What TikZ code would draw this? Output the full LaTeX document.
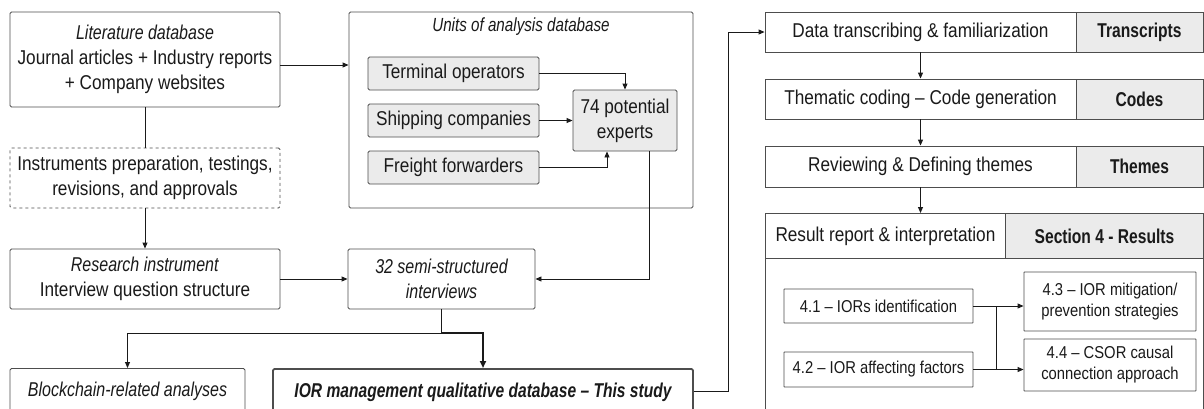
\documentclass[tikz,border=0pt]{standalone}
\usepackage{fontspec}
\setmainfont{Liberation Sans}[FakeStretch=0.86, ItalicFeatures={FakeStretch=0.8}, BoldFeatures={FakeStretch=0.78}, BoldItalicFeatures={FakeStretch=0.78}]
\usetikzlibrary{arrows.meta,calc}
\definecolor{bordc}{HTML}{4D4D4D}
\definecolor{txtc}{HTML}{1A1A1A}
\definecolor{greyf}{HTML}{EBEBEB}
\tikzset{
  box/.style={draw=bordc, rounded corners=1.5pt, line width=0.9pt, fill=white, align=center, inner sep=0pt, text=txtc, font=\fontsize{20}{25}\selectfont},
  gbox/.style={box, fill=greyf},
  smallbox/.style={box, rounded corners=0.5pt, font=\fontsize{17.2}{21}\selectfont},
  tagbox/.style={box, fill=greyf, rounded corners=0pt, font=\bfseries\fontsize{20}{24}\selectfont},
  arr/.style={draw=txtc, line width=0.9pt, -{Triangle[length=6pt,width=5pt]}},
  ln/.style={draw=txtc, line width=0.9pt},
  thk/.style={draw=txtc, line width=1.8pt}
}
\begin{document}
\begin{tikzpicture}[x=1pt,y=-1pt]
\useasboundingbox (0,0) rectangle (1204,408);
\clip (0,0) rectangle (1204,408);
\fill[white] (0,0) rectangle (1204,408);
% left column
\node[box, minimum width=270pt, minimum height=95pt] (lit) at (145,59.5) {\textit{Literature database}\\Journal articles + Industry reports\\+ Company websites};
\node[box, dashed, minimum width=270pt, minimum height=60pt] (instr) at (145,178) {Instruments preparation, testings,\\revisions, and approvals};
\node[box, minimum width=270pt, minimum height=60pt] (res) at (145,279) {\textit{Research instrument}\\Interview question structure};
% units database
\node[box, minimum width=344pt, minimum height=196pt] (units) at (521,110) {};
\node[text=txtc, font=\itshape\fontsize{19}{22}\selectfont] (unitst) at (521,27) {Units of analysis database};
\node[gbox, minimum width=171pt, minimum height=33pt] (term) at (453.5,73.5) {Terminal operators};
\node[gbox, minimum width=171pt, minimum height=33pt] (ship) at (453.5,120.5) {Shipping companies};
\node[gbox, minimum width=171pt, minimum height=33pt] (frei) at (453.5,167.5) {Freight forwarders};
\node[gbox, minimum width=104pt, minimum height=61pt] (exp) at (625,120.5) {74 potential\\experts};
% interviews
\node[box, minimum width=187pt, minimum height=60pt, font=\itshape\fontsize{20}{25}\selectfont] (intv) at (441.5,279) {32 semi-structured\\interviews};
% bottom
\node[box, minimum width=235pt, minimum height=46pt, anchor=north, font=\itshape\fontsize{20}{25}\selectfont] (block) at (127.5,368) {Blockchain-related analyses};
\node[box, line width=1.8pt, minimum width=420pt, minimum height=46pt, anchor=north, font=\bfseries\itshape\fontsize{20}{25}\selectfont] (ior) at (483,368) {IOR management qualitative database -- This study};
% right column
\node[box, rounded corners=0pt, minimum width=311pt, minimum height=40pt] (data) at (920.5,32) {Data transcribing \& familiarization};
\node[tagbox, minimum width=127pt, minimum height=40pt] (tdata) at (1139.5,32) {Transcripts};
\node[box, rounded corners=0pt, minimum width=311pt, minimum height=40pt] (codes) at (920.5,99) {Thematic coding -- Code generation};
\node[tagbox, minimum width=127pt, minimum height=40pt] (tcodes) at (1139.5,99) {Codes};
\node[box, rounded corners=0pt, minimum width=311pt, minimum height=41pt] (themes) at (920.5,166.5) {Reviewing \& Defining themes};
\node[tagbox, minimum width=127pt, minimum height=41pt] (tthemes) at (1139.5,166.5) {Themes};
\node[box, rounded corners=0pt, minimum width=438pt, minimum height=210pt, anchor=north west] (cont) at (765,213) {};
\node[box, rounded corners=0pt, minimum width=240pt, minimum height=45pt, anchor=north west] (resr) at (765,213) {Result report \& interpretation};
\node[tagbox, minimum width=198pt, minimum height=45pt, anchor=north west] (tres) at (1005,213) {Section 4 - Results};
\node[smallbox, minimum width=189pt, minimum height=34pt] (r41) at (878.5,306) {4.1 -- IORs identification};
\node[smallbox, minimum width=189pt, minimum height=35pt] (r42) at (878.5,369.5) {4.2 -- IOR affecting factors};
\node[smallbox, minimum width=172pt, minimum height=59pt] (r43) at (1110,301.5) {4.3 -- IOR mitigation/\\prevention strategies};
\node[smallbox, minimum width=172pt, minimum height=52pt] (r44) at (1110,365) {4.4 -- CSOR causal\\connection approach};
% coordinates
\coordinate (split) at (441.5,333);
\coordinate (bend) at (728,0);
\coordinate (jx) at (996,0);
% connectors
\draw[arr] ([yshift=-5.5pt]lit.east) -- ([yshift=-5.5pt]lit.east -| units.west);
\draw[ln] (lit.south) -- (instr.north);
\draw[arr] (instr.south) -- (res.north);
\draw[arr] (res.east) -- (intv.west);
\draw[arr] (term.east) -| (exp.north);
\draw[arr] (ship.east) -- (exp.west);
\draw[arr] (frei.east) -| ([xshift=-18pt]exp.south);
\draw[arr] ([xshift=24pt]exp.south) |- (intv.east);
\draw[thk] (intv.south) -- (split);
\draw[thk, -{Triangle[length=7pt,width=6pt]}] (split) -| (ior.north);
\draw[arr] (split) -| (block.north);
\draw[arr] (ior.east) -| (bend |- data.west) -- (data.west);
\draw[arr] (data.south) -- (codes.north);
\draw[arr] (codes.south) -- (themes.north);
\draw[arr] (themes.south) -- (themes.south |- cont.north);
\draw[arr] (r41.east) -- (r41.east -| r43.west);
\draw[arr] (r42.east) -- (r42.east -| r44.west);
\draw[ln] (r41.east -| jx) -- (r42.east -| jx);
\end{tikzpicture}
\end{document}
